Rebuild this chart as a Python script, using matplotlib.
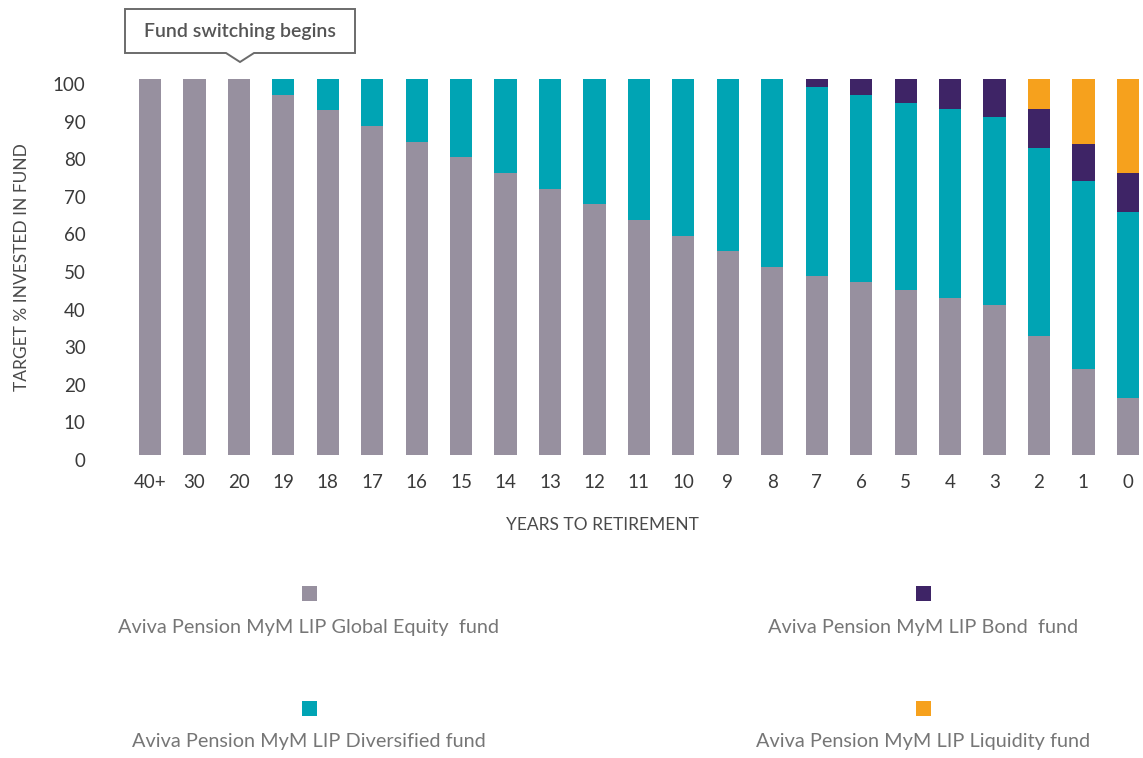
import matplotlib
matplotlib.use('Agg')
import matplotlib.pyplot as plt
from matplotlib.patches import Rectangle, Polygon
from matplotlib.transforms import ScaledTranslation

years = ['40+', '30', '20', '19', '18', '17', '16', '15', '14', '13', '12', '11',
         '10', '9', '8', '7', '6', '5', '4', '3', '2', '1', '0']
equity = [100, 100, 100, 95.8, 91.7, 87.5, 83.3, 79.2, 75.0, 70.8, 66.7, 62.5,
          58.3, 54.2, 50.0, 47.6, 46.1, 44.0, 41.8, 39.9, 31.7, 22.9, 15.2]
diversified = [0, 0, 0, 4.2, 8.3, 12.5, 16.7, 20.8, 25.0, 29.2, 33.3, 37.5,
               41.7, 45.8, 50.0, 50.3, 49.6, 49.6, 50.2, 50.0, 49.9, 50.0, 49.4]
bond = [0, 0, 0, 0, 0, 0, 0, 0, 0, 0, 0, 0,
        0, 0, 0, 2.1, 4.3, 6.4, 8.0, 10.1, 10.4, 9.8, 10.4]
liquidity = [0, 0, 0, 0, 0, 0, 0, 0, 0, 0, 0, 0,
             0, 0, 0, 0, 0, 0, 0, 0, 8.0, 17.3, 25.0]

series_names = ['Aviva Pension MyM LIP Global Equity  fund',
                'Aviva Pension MyM LIP Diversified fund',
                'Aviva Pension MyM LIP Bond  fund',
                'Aviva Pension MyM LIP Liquidity fund']
colors = ['#97909f', '#00a4b4', '#3e2466', '#f6a11d']

plt.rcParams['font.family'] = ['Lato', 'DejaVu Sans']

W, H = 1143, 758
fig = plt.figure(figsize=(W / 100, H / 100), dpi=100)
ax = fig.add_axes([123 / W, 1 - 455 / H, 1020 / W, 376 / H])

x = list(range(len(years)))
bottom = [0] * len(years)
for vals, col in zip([equity, diversified, bond, liquidity], colors):
    ax.bar(x, vals, width=0.5, bottom=bottom, color=col, linewidth=0)
    bottom = [b + v for b, v in zip(bottom, vals)]

ax.set_xlim(-0.607, 22.34)
ax.set_ylim(0, 100)
for s in ax.spines.values():
    s.set_visible(False)
ax.set_xticks(x)
ax.set_xticklabels(years)
ax.set_yticks(range(0, 101, 10))
ax.tick_params(axis='both', length=0, labelsize=13.5, colors='#3a3a3a')
ax.tick_params(axis='x', pad=14)
ax.tick_params(axis='y', pad=27)
for lab in ax.get_yticklabels():
    lab.set_transform(lab.get_transform() + ScaledTranslation(0, -5 / 100, fig.dpi_scale_trans))

ax.set_ylabel('TARGET % INVESTED IN FUND', fontsize=12.5, color='#4a4a4a')
ax.yaxis.set_label_coords(-0.091, 0.5)
ax.set_xlabel('YEARS TO RETIREMENT', fontsize=12.5, color='#4a4a4a')
ax.xaxis.set_label_coords(0.47, -0.186)
ax.xaxis.label.set_va('center')

# callout
def px(xp, yp):
    return (xp / W, 1 - yp / H)

pts = [px(125, 9), px(355, 9), px(355, 53), px(254, 53), px(240, 62),
       px(226, 53), px(125, 53)]
fig.add_artist(Polygon(pts, closed=True, transform=fig.transFigure,
                       facecolor='white', edgecolor='#6b6b6b', linewidth=1.4))
fig.text(240 / W, 1 - 31 / H, 'Fund switching begins', ha='center', va='center',
         fontsize=14, fontweight='semibold', color='#555555')

# legend
leg_pos = [(309, 593, 628), (309, 708, 742), (923, 593, 628), (923, 708, 742)]
for (cx, sy, ty), name, col in zip(leg_pos, series_names, colors):
    fig.add_artist(Rectangle(((cx - 7.5) / W, 1 - (sy + 7.5) / H), 15 / W, 15 / H,
                             transform=fig.transFigure, facecolor=col, linewidth=0))
    fig.text(cx / W, 1 - ty / H, name, ha='center', va='center', fontsize=14.3,
             fontweight='normal', color='#767676')

fig.savefig('out.png', dpi=100)
